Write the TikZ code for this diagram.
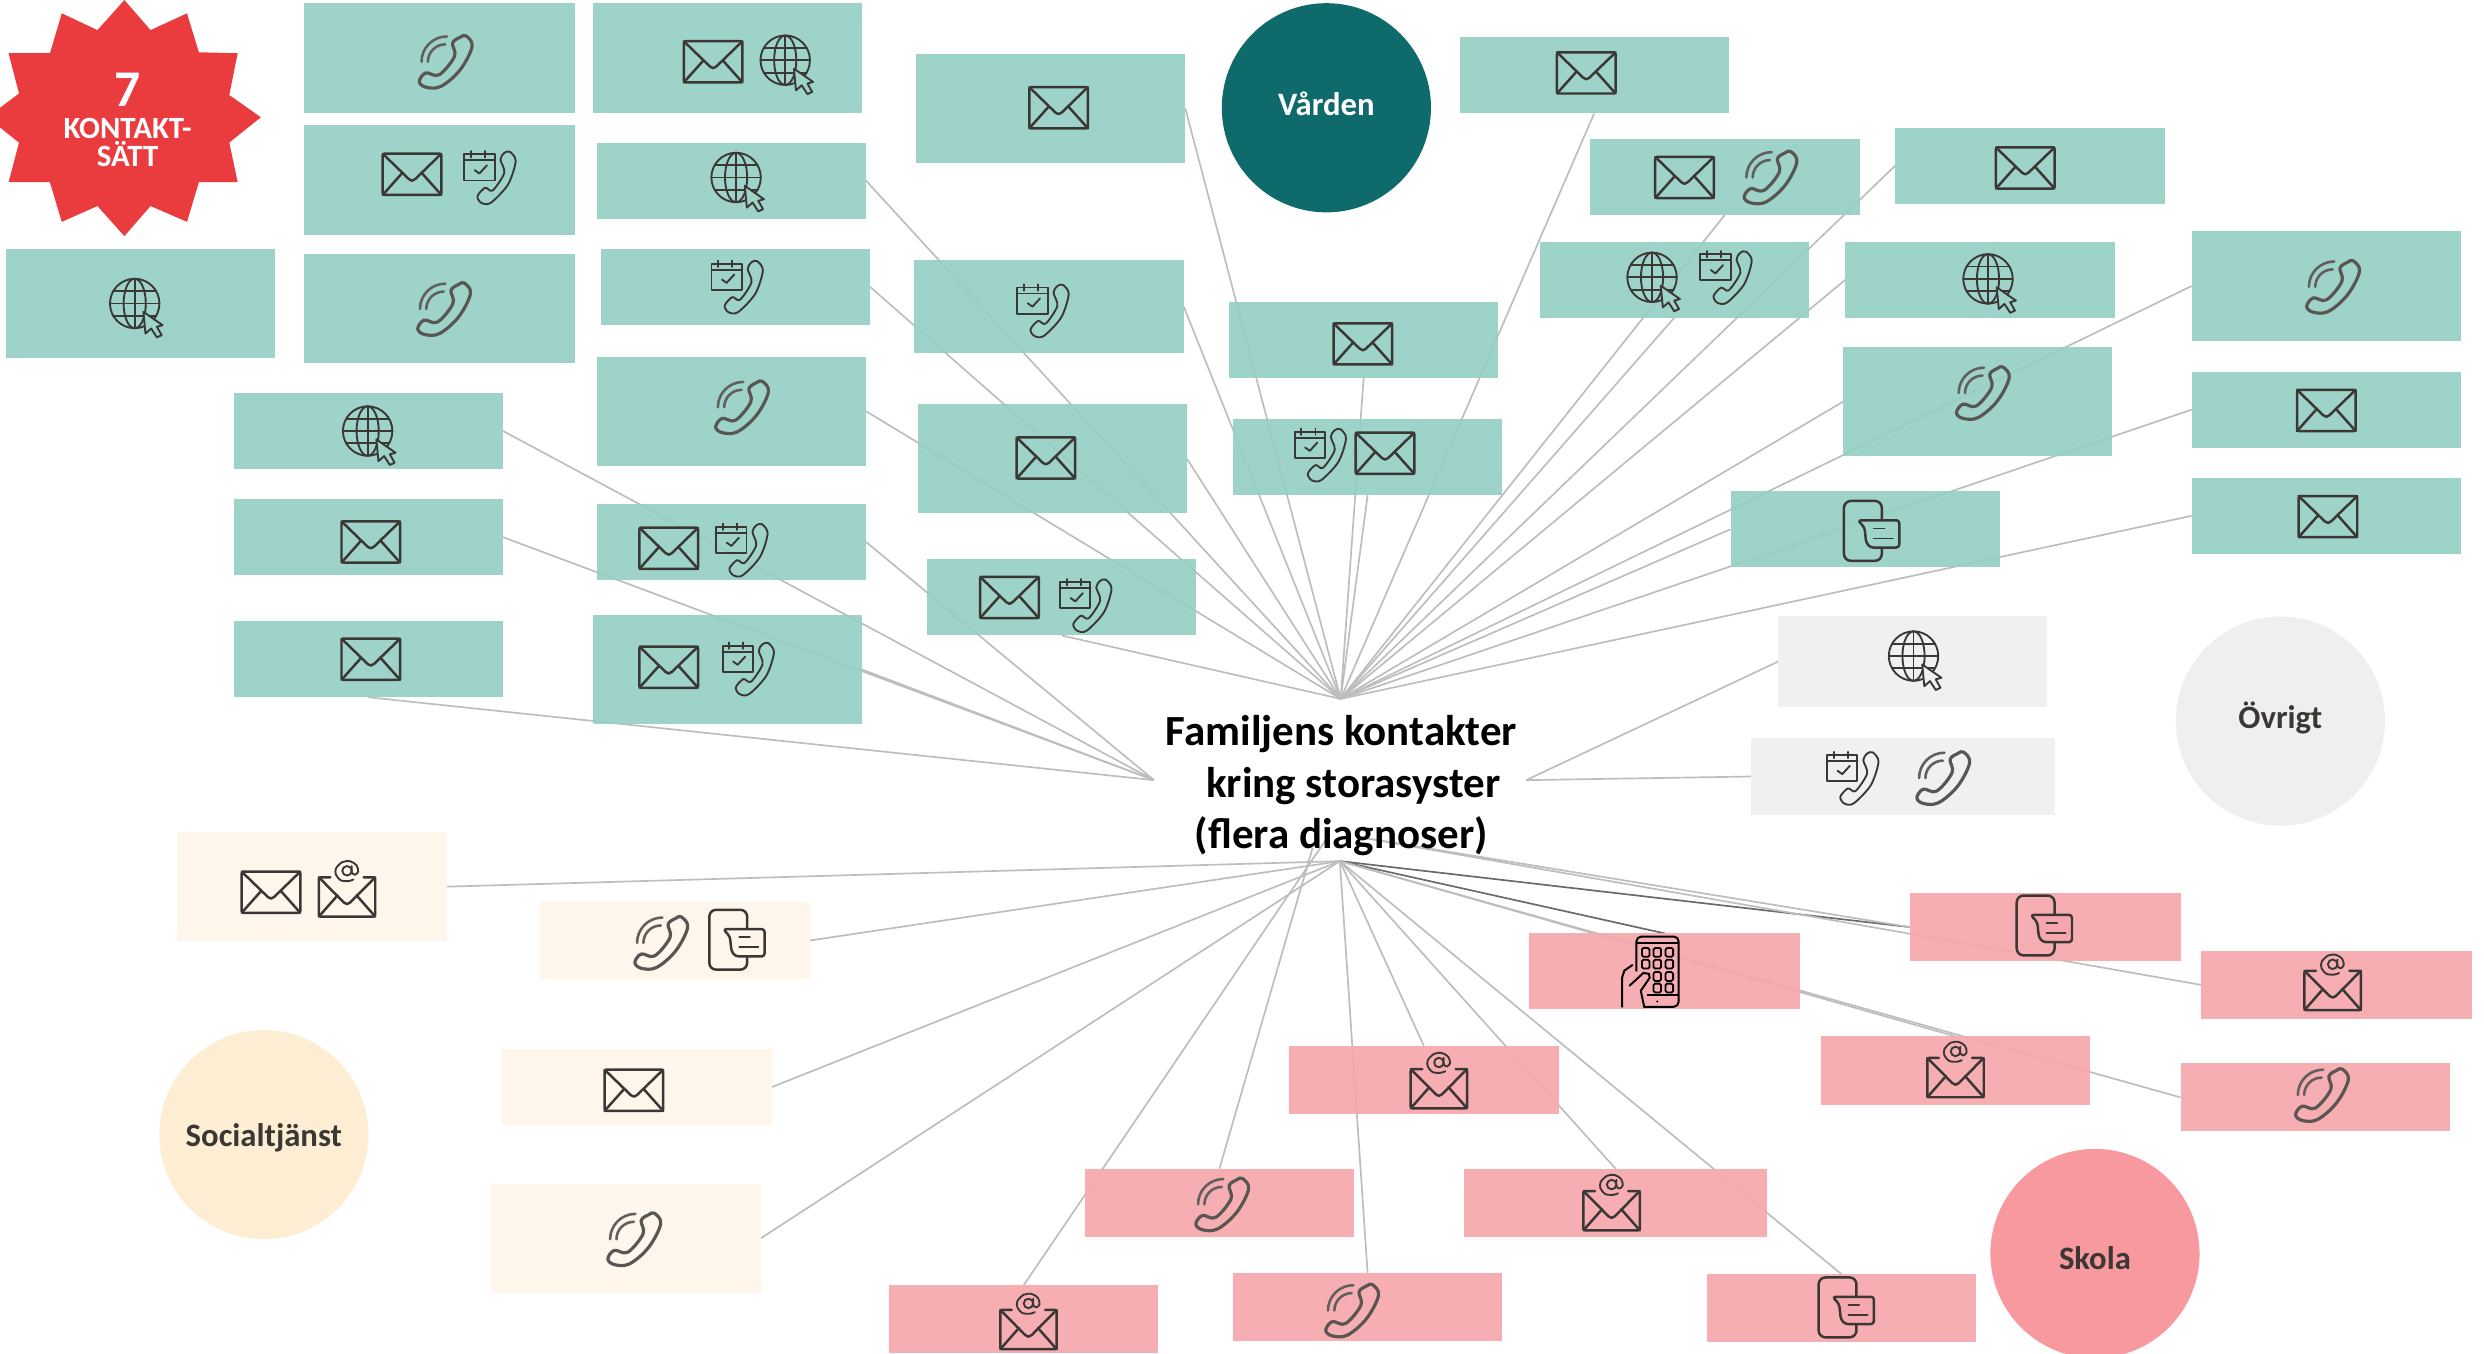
\documentclass[tikz,border=0pt]{standalone}
\usepackage{fontspec}
\setmainfont{Carlito}
\definecolor{vardteal}{HTML}{96CFC4}
\definecolor{varddark}{HTML}{0F6B6B}
\definecolor{ovriggra}{HTML}{EFEFEF}
\definecolor{socialbeige}{HTML}{FFF5E9}
\definecolor{socialgul}{HTML}{FDEED3}
\definecolor{skolarosa}{HTML}{F6A7AD}
\definecolor{skolaring}{HTML}{F7999F}
\definecolor{stjarnrod}{HTML}{EA3C3F}
\definecolor{ikonfarg}{HTML}{3B3735}
\definecolor{linjegra}{HTML}{BDBDBD}
\definecolor{linjemork}{HTML}{6A6A6A}
\pgfdeclarelayer{linjer}
\pgfsetlayers{linjer,main}
\tikzset{
    kort/.style={rectangle,inner sep=0pt,outer sep=0pt,minimum width=136pt,fill opacity=0.92},
    liten/.style={kort,minimum height=38.4pt},
    stor/.style={kort,minimum height=55.2pt},
    lag/.style={kort,minimum height=34.4pt},
    cirkel/.style={circle,inner sep=0pt,outer sep=0pt,minimum size=105.6pt},
    namn/.style={inner sep=0pt,font=\fontsize{16.5}{18}\selectfont\bfseries,text=ikonfarg},
    linje/.style={linjegra,line width=0.85pt},
    morklinje/.style={linjemork,line width=0.85pt},
    ikon/.style={ikonfarg,line width=1.25pt,line join=round,line cap=round},
    tunnikon/.style={ikonfarg,line width=0.95pt,line join=round,line cap=round},
    pics/brev/.style={code={
        \draw[ikon,rounded corners=0.8pt] (-18.5,-13) rectangle (18.5,13);
        \draw[ikon] (-18.5,-13) -- (-2,3) -- (0,4) -- (2,3) -- (18.5,-13);
        \draw[ikon] (-18.5,13) -- (-6,-1);
        \draw[ikon] (18.5,13) -- (6,-1);
    }},
    pics/atbrev/.style={code={
        \draw[ikon,rounded corners=0.8pt] (-10.5,-7.4) -- (-17.8,-7.4) -- (-17.8,17.4) -- (17.8,17.4) -- (17.8,-7.4) -- (10.5,-7.4);
        \draw[ikon] (-17.8,-7.4) -- (-2,8.5) -- (0,9.5) -- (2,8.5) -- (17.8,-7.4);
        \draw[ikon] (-17.8,17.4) -- (-6,4);
        \draw[ikon] (17.8,17.4) -- (6,4);
        \draw[tunnikon] (0,-11.5) circle[radius=3];
        \draw[tunnikon] plot[smooth] coordinates {(3,-14.5) (3,-10.5) (5,-9) (7,-11) (6,-15) (2,-17.5) (-3,-17) (-7,-13) (-7,-9) (-4,-5.5) (1,-5) (4,-6)};
    }},
    pics/telefon/.style={code={
        \draw[ikon,ikonfarg!85,line width=1.6pt] plot[smooth cycle,tension=0.6] coordinates {(13,-16.4) (16.9,-9.7) (9.4,5) (-2.7,15.5) (-12.3,16) (-16.4,12.4) (-12.3,7) (-3.9,8.2) (5.8,-3.4) (4.6,-11.8) (9.4,-15.5)};
        \draw[ikon,ikonfarg!80,line width=1.3pt] (-15,0) arc[start angle=180,end angle=270,radius=16];
        \draw[ikon,ikonfarg!80,line width=1.3pt] (-11,0) arc[start angle=180,end angle=270,radius=11];
    }},
    pics/kalender/.style={code={
        \draw[tunnikon] (-16,-14.6) rectangle (3.1,1.9);
        \draw[tunnikon] (-16,-10.8) -- (3.1,-10.8);
        \draw[tunnikon] (-11.8,-16.6) -- (-11.8,-12.6);
        \draw[tunnikon] (-2.9,-16.6) -- (-2.9,-12.6);
        \draw[tunnikon] (-9.4,-4.6) -- (-6.5,-2.5) -- (-1.7,-7.7);
        \draw[tunnikon] plot[smooth cycle] coordinates {(12.8,-16.2) (16.4,-10.3) (11.6,4.4) (0.7,16) (-5.3,16) (-7.7,11.8) (-2.9,6.5) (1.9,8.2) (9.2,-2.9) (6.8,-11.3) (9.2,-15.5)};
    }},
    pics/natet/.style={code={
        \begin{scope}[shift={(-1.5,-3)}]
        \draw[tunnikon] (0,0) circle[radius=15.6];
        \draw[tunnikon] (0,0) ellipse[x radius=7,y radius=15.6];
        \draw[tunnikon] (0,-15.6) -- (0,15.6);
        \draw[tunnikon] (-15.6,0) -- (15.6,0);
        \draw[tunnikon] (-13.6,-7.8) -- (13.6,-7.8);
        \draw[tunnikon] (-13.6,7.8) -- (13.6,7.8);
        \draw[tunnikon,fill=#1] (5.5,5.3) -- (17.6,13.7) -- (14,14.7) -- (17,20) -- (14,21.4) -- (10.4,15.8) -- (6.8,19) -- cycle;
        \end{scope}
    }},
    pics/chatt/.style={code={
        \draw[ikon,rounded corners=3.5pt] (-17.4,-18.9) rectangle (6.5,18.9);
        \draw[ikon,fill=#1,rounded corners=1.5pt] (-8.6,-6.7) -- (17.5,-6.7) -- (17.5,10.5) -- (-0.8,10.5) -- (-3.4,7.4) -- (-4.4,-2) -- cycle;
        \draw[tunnikon] (1.5,-1.5) -- (8.2,-1.5);
        \draw[tunnikon] (1.5,4.8) -- (13.5,4.8);
    }},
    pics/handmobil/.style={code={
        \draw[black,line width=1pt,rounded corners=2.5pt] (-8.4,0) -- (-8.4,-22) -- (18.3,-22) -- (18.3,22.3) -- (-3.4,22.3);
        \draw[black,line width=1pt] (-8.4,-18) -- (18.3,-18);
        \draw[black,line width=1pt] (-1.4,15) -- (18.3,15);
        \fill[black] (4.8,19) circle[radius=0.7];
        \foreach \kolx/\rady in {-2.5/-12,4.8/-12,12.4/-12,-2.5/-4.6,4.8/-4.6,12.4/-4.6,4.8/3.2,12.4/3.2,4.8/10.5,12.4/10.5}
            \draw[black,line width=0.9pt,rounded corners=0.8pt] (\kolx-2.4,\rady-2.8) rectangle (\kolx+2.4,\rady+2.8);
        \draw[black,line width=1pt] (-17.4,22.7) -- (-17.4,3.8) -- (-16,-0.5) -- (-10.7,-4.2);
        \draw[black,line width=1pt,line cap=round] (-12.7,9) -- (-4,1) -- (-0.5,1.5) -- (0,4) -- (-5.6,12.2) -- (-3.4,22.7);
    }},
}

\begin{document}
\begin{tikzpicture}[x=0.8pt,y=-0.8pt]
    \useasboundingbox (0,0) rectangle (1567.5,854.4);

    % kontakter inom varden
    \node[stor,fill=vardteal,minimum width=136.8pt] (v1) at (277.5,36.5) {};
    \node[stor,fill=vardteal] (v2) at (459,36.5) {};
    \node[stor,fill=vardteal,minimum width=136.8pt] (v3) at (277.5,113.5) {};
    \node[liten,fill=vardteal] (v4) at (461.5,114) {};
    \node[stor,fill=vardteal] (v5) at (88.5,191.5) {};
    \node[stor,fill=vardteal,minimum width=136.8pt] (v6) at (277.5,194.5) {};
    \node[liten,fill=vardteal] (v7) at (464,181) {};
    \node[stor,fill=vardteal] (v8) at (461.5,259.5) {};
    \node[liten,fill=vardteal] (v9) at (232.5,272) {};
    \node[liten,fill=vardteal] (v10) at (232.5,339) {};
    \node[liten,fill=vardteal] (v11) at (232.5,416) {};
    \node[liten,fill=vardteal] (v12) at (461.5,342) {};
    \node[stor,fill=vardteal] (v13) at (459,422.5) {};
    \node[stor,fill=vardteal] (v14) at (663,68.5) {};
    \node[kort,fill=vardteal,minimum height=47.2pt] (v15) at (662,193.5) {};
    \node[stor,fill=vardteal] (v16) at (664,289.5) {};
    \node[liten,fill=vardteal] (v17) at (670,377) {};
    \node[liten,fill=vardteal] (v18) at (860.5,214.5) {};
    \node[liten,fill=vardteal] (v19) at (863,288.5) {};
    \node[liten,fill=vardteal] (v20) at (1006,47.5) {};
    \node[liten,fill=vardteal] (v21) at (1088.5,111.5) {};
    \node[liten,fill=vardteal] (v22) at (1056.5,176.5) {};
    \node[liten,fill=vardteal] (v23) at (1281,104.5) {};
    \node[liten,fill=vardteal] (v24) at (1249.5,176.5) {};
    \node[stor,fill=vardteal] (v25) at (1468,180.5) {};
    \node[stor,fill=vardteal] (v26) at (1248,253.5) {};
    \node[liten,fill=vardteal] (v27) at (1468,258.5) {};
    \node[liten,fill=vardteal] (v28) at (1177,334) {};
    \node[liten,fill=vardteal] (v29) at (1468,325.5) {};

    % ovrigt
    \node[kort,fill=ovriggra,minimum height=45.6pt] (o1) at (1207,417.5) {};
    \node[liten,fill=ovriggra,minimum width=153.6pt] (o2) at (1201,490) {};

    % socialtjanst
    \node[stor,fill=socialbeige] (s1) at (197,559.5) {};
    \node[liten,fill=socialbeige] (s2) at (426,593.5) {};
    \node[liten,fill=socialbeige] (s3) at (402,686) {};
    \node[stor,fill=socialbeige] (s4) at (395,781.5) {};

    % skola
    \node[liten,fill=skolarosa,minimum width=136.8pt] (k1) at (1050.5,613) {};
    \node[lag,fill=skolarosa,minimum width=136.8pt] (k2) at (1290.5,585) {};
    \node[lag,fill=skolarosa,minimum width=136.8pt] (k3) at (1474.5,621.5) {};
    \node[lag,fill=skolarosa] (k4) at (1234,675.5) {};
    \node[lag,fill=skolarosa] (k5) at (1461,692.5) {};
    \node[lag,fill=skolarosa] (k6) at (898.5,681.5) {};
    \node[lag,fill=skolarosa] (k7) at (769.5,759) {};
    \node[lag,fill=skolarosa,minimum width=152.8pt] (k8) at (1019.5,759) {};
    \node[lag,fill=skolarosa] (k9) at (646,832.5) {};
    \node[lag,fill=skolarosa] (k10) at (863,825) {};
    \node[lag,fill=skolarosa] (k11) at (1162,825.5) {};

    % rubrik och navpunkter
    \node[font=\fontsize{21.7}{26}\selectfont\bfseries,text=black,align=center,inner sep=0pt] (rubrik) at (846.5,496)
        {Familjens kontakter\\\hspace*{12pt}kring storasyster\\(flera diagnoser)};
    \coordinate (navtopp) at (846,441);
    \coordinate (navvanster) at (728.2,492.3);
    \coordinate (navhoger) at (963,492.3);
    \coordinate (navbotten) at (845.5,543.4);
    \coordinate (navtext) at (856.4,528);
    \coordinate (navbrev) at (837.3,529);
    \coordinate (navsamtal) at (828.3,535);

    % cirklar
    \node[cirkel,fill=varddark] (varden) at (837,68) {};
    \node[cirkel,fill=ovriggra] (ovrigt) at (1439,455) {};
    \node[cirkel,fill=socialgul] (social) at (166.5,716) {};
    \node[cirkel,fill=skolaring] (skola) at (1322,791) {};
    \node[namn,text=white] (vardentext) at (837,65.5) {Vården};
    \node[namn] (ovrigttext) at (1439,453) {Övrigt};
    \node[namn] (socialtext) at (166.5,718) {Socialtjänst};
    \node[namn] (skolatext) at (1322,794) {Skola};

    % stjarna
    \fill[stjarnrod] (78.5,0) -- (95,19) -- (118,8.4) -- (125.5,33) -- (150,33.6) -- (144.7,60) -- (164.6,74) -- (144.7,90)
        -- (150,115) -- (125.5,115) -- (118,140) -- (95,130) -- (78.5,149) -- (61.5,130) -- (39,140) -- (31.5,115) -- (5.4,115)
        -- (12,90) -- (-8,74) -- (12,59) -- (5.4,33.6) -- (31.5,33.6) -- (39,8.4) -- (61.5,19) -- cycle;
    \node[text=white,font=\fontsize{26}{26}\selectfont\bfseries,inner sep=0pt] (antal) at (80.5,56.5) {7};
    \node[text=white,font=\fontsize{15.6}{14.4}\selectfont\bfseries,align=center,inner sep=0pt] (antaltext) at (80.5,90) {KONTAKT-\\SÄTT};

    % linjer
    \begin{pgfonlayer}{linjer}
    \draw[linje] (v4.east) -- (navtopp);
    \draw[linje] (v7.east) -- (navtopp);
    \draw[linje] (v8.east) -- (navtopp);
    \draw[linje] (v14.east) -- (navtopp);
    \draw[linje] (v15.east) -- (navtopp);
    \draw[linje] (v16.east) -- (navtopp);
    \draw[linje] (v17.south) -- (navtopp);
    \draw[linje] (v18.south) -- (navtopp);
    \draw[linje] (v19.south) -- (navtopp);
    \draw[linje] (v20.south) -- (navtopp);
    \draw[linje] (v21.south) -- (navtopp);
    \draw[linje] (v22.south) -- (navtopp);
    \draw[linje] (v23.west) -- (navtopp);
    \draw[linje] (v24.west) -- (navtopp);
    \draw[linje] (v25.west) -- (navtopp);
    \draw[linje] (v26.west) -- (navtopp);
    \draw[linje] (v27.west) -- (navtopp);
    \draw[linje] (v28.west) -- (navtopp);
    \draw[linje] (v29.west) -- (navtopp);
    \draw[linje] (v9.east) -- (navvanster);
    \draw[linje] (v10.east) -- (navvanster);
    \draw[linje] (v11.south) -- (navvanster);
    \draw[linje] (v12.east) -- (navvanster);
    \draw[linje] (v13.east) -- (navvanster);
    \draw[linje] (o1.west) -- (navhoger);
    \draw[linje] (o2.west) -- (navhoger);
    \draw[linje] (s1.east) -- (navbotten);
    \draw[linje] (s2.east) -- (navbotten);
    \draw[linje] (s3.east) -- (navbotten);
    \draw[linje] (s4.east) -- (navbotten);
    \draw[morklinje] (k1.north) -- (navbotten);
    \draw[morklinje] (k2.west) -- (navbotten);
    \draw[linje] (k2.west) -- (navtext);
    \draw[linje] (k3.west) -- (navtext);
    \draw[linje] (k4.north) -- (navbotten);
    \draw[linje] (k5.west) -- (navbotten);
    \draw[linje] (k6.north) -- (navbotten);
    \draw[linje] (k7.north) -- (navsamtal);
    \draw[linje] (k8.north) -- (navbotten);
    \draw[linje] (k9.north) -- (navbrev);
    \draw[linje] (k10.north) -- (navbotten);
    \draw[linje] (k11.north) -- (navbotten);
    \end{pgfonlayer}

    % ikoner
    \pic at (281,39) {telefon};
    \pic at (450,39) {brev};
    \pic at (497,41) {natet=vardteal!92!white};
    \pic at (260,110) {brev};
    \pic at (309,112) {kalender};
    \pic at (466,115) {natet=vardteal!92!white};
    \pic at (86.5,194.5) {natet=vardteal!92!white};
    \pic at (280,195) {telefon};
    \pic at (465,181) {kalender};
    \pic at (468,257) {telefon};
    \pic at (233.5,275) {natet=vardteal!92!white};
    \pic at (234,342) {brev};
    \pic at (234,416) {brev};
    \pic at (422,346) {brev};
    \pic at (468,347) {kalender};
    \pic at (422,421) {brev};
    \pic at (472,422) {kalender};
    \pic at (668,68) {brev};
    \pic at (658,196) {kalender};
    \pic at (660,289) {brev};
    \pic at (637,377) {brev};
    \pic at (685,382) {kalender};
    \pic at (860,217) {brev};
    \pic at (833,287) {kalender};
    \pic at (874,286) {brev};
    \pic at (1001,46) {brev};
    \pic at (1063,112) {brev};
    \pic at (1117,112) {telefon};
    \pic at (1044,178) {natet=vardteal!92!white};
    \pic at (1089,175) {kalender};
    \pic at (1278,106) {brev};
    \pic at (1256,179) {natet=vardteal!92!white};
    \pic at (1472,181) {telefon};
    \pic at (1251,248) {telefon};
    \pic at (1468,259) {brev};
    \pic at (1181,335) {chatt=vardteal!92!white};
    \pic at (1469,326) {brev};
    \pic at (1209,417) {natet=ovriggra};
    \pic at (1169,491) {kalender};
    \pic at (1226,491) {telefon};
    \pic at (171,563) {brev};
    \pic at (219,561) {atbrev};
    \pic at (417,595) {telefon};
    \pic at (465,593) {chatt=socialbeige};
    \pic at (400,688) {brev};
    \pic at (400,782) {telefon};
    \pic at (1041,613) {handmobil};
    \pic at (1290,584) {chatt=skolarosa};
    \pic at (1472,620) {atbrev};
    \pic at (1234,675) {atbrev};
    \pic at (1465,691) {telefon};
    \pic at (908,682) {atbrev};
    \pic at (771,760) {telefon};
    \pic at (1017,759) {atbrev};
    \pic at (649,834) {atbrev};
    \pic at (853,827) {telefon};
    \pic at (1165,825) {chatt=skolarosa};
\end{tikzpicture}
\end{document}
